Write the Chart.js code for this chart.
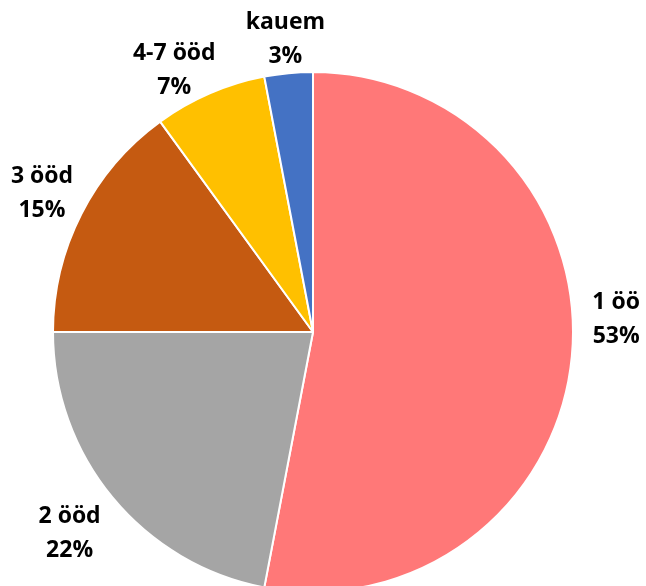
<!DOCTYPE html>
<html>
<head>
<meta charset="utf-8">
<script src="https://cdn.jsdelivr.net/npm/chart.js@4/dist/chart.umd.min.js"></script>
<style>
    html, body { margin: 0; padding: 0; background: #fff; overflow: hidden; }
    #wrap { position: absolute; left: 0; top: 0; width: 646px; height: 600px; }
</style>
</head>
<body>
<div id="wrap"><canvas id="pie-chart"></canvas></div>
<script>
// Data
const categories = ['1 öö', '2 ööd', '3 ööd', '4-7 ööd', 'kauem'];
const shares = [53, 22, 15, 7, 3];
const sliceColors = ['#FF7878', '#A5A5A5', '#C55A11', '#FFC000', '#4472C4'];

// label placement, like the excel data labels (distance from centre in radii, angle shift in deg)
const labelDistance = [1.167, 1.215, 1.17, 1.14, 1.13];
const labelShift = [-7.7, 0, 0, -4.5, 0];

const outsideLabels = {
    id: 'outsideLabels',
    afterDatasetsDraw(chart) {
        const ctx = chart.ctx;
        const meta = chart.getDatasetMeta(0);
        ctx.save();
        ctx.fillStyle = '#000';
        ctx.font = 'bold 23px "Open Sans"';
        ctx.textAlign = 'center';
        ctx.textBaseline = 'middle';
        meta.data.forEach(function (arc, i) {
            const mid = (arc.startAngle + arc.endAngle) / 2 + labelShift[i] * Math.PI / 180;
            const r = arc.outerRadius * labelDistance[i];
            const x = arc.x + Math.cos(mid) * r;
            const y = arc.y + Math.sin(mid) * r;
            ctx.fillText(categories[i], x, y - 17);
            ctx.fillText(shares[i] + '%', x, y + 17);
        });
        ctx.restore();
    }
};

const ctx = document.getElementById('pie-chart').getContext('2d');
new Chart(ctx, {
    type: 'pie',
    data: {
        labels: categories,
        datasets: [{
            data: shares,
            backgroundColor: sliceColors,
            borderColor: '#fff',
            borderWidth: 2
        }]
    },
    options: {
        responsive: true,
        maintainAspectRatio: false,
        animation: false,
        layout: { padding: { left: 52, right: 72, top: 71, bottom: 7 } },
        plugins: {
            legend: { display: false },
            tooltip: { enabled: false }
        }
    },
    plugins: [outsideLabels]
});
</script>
</body>
</html>
